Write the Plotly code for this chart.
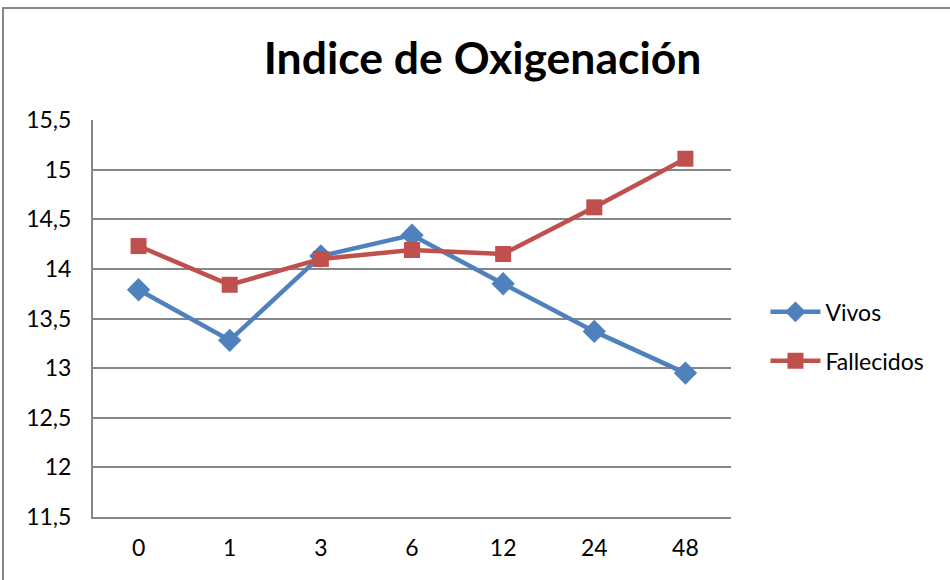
import plotly.graph_objects as go

# datos del gráfico
horas = ["0", "1", "3", "6", "12", "24", "48"]
vivos = [13.79, 13.28, 14.13, 14.34, 13.85, 13.37, 12.95]
fallecidos = [14.23, 13.84, 14.10, 14.19, 14.15, 14.62, 15.11]

azul = "#4F81BD"
rojo = "#C0504D"
gris = "#868686"
fuente = "Lato"

fig = go.Figure()

fig.add_trace(go.Scatter(
    x=horas, y=vivos, name="Vivos", mode="lines+markers", legendgroup="v",
    line=dict(color=azul, width=4.5),
    marker=dict(symbol="diamond", size=18, color=azul)))

fig.add_trace(go.Scatter(
    x=horas, y=fallecidos, name="Fallecidos", mode="lines+markers", legendgroup="f",
    line=dict(color=rojo, width=4.5),
    marker=dict(symbol="square", size=16, color=rojo)))

fig.update_layout(
    width=950, height=580,
    margin=dict(l=93, r=219, t=120, b=63),
    paper_bgcolor="white", plot_bgcolor="white",
    separators=",.",
    font=dict(family=fuente, size=23, color="black"),
    title=dict(text="<b>Indice de Oxigenación</b>", x=0.508, xanchor="center",
               y=0.9, yanchor="middle",
               font=dict(family=fuente, size=44.5, color="black")),
    legend=dict(x=1.054, y=0.455, xanchor="left", yanchor="middle",
                font=dict(size=23), itemwidth=50, traceorder="grouped",
                tracegroupgap=16, bgcolor="rgba(0,0,0,0)"),
    xaxis=dict(type="category", range=[-0.5, 6.5], showgrid=False,
               showline=True, linecolor=gris, linewidth=2, ticks="",
               ticklabelstandoff=9),
    yaxis=dict(range=[11.5, 15.5], dtick=0.5, showgrid=True, gridcolor=gris,
               gridwidth=2, showline=True, linecolor=gris, linewidth=2,
               zeroline=False, ticks="", ticklabelstandoff=15),
)

# borde exterior del gráfico (izquierda y arriba)
fig.add_shape(type="rect", xref="paper", yref="paper",
              x0=(3 - 93) / 638, x1=1.5, y0=-0.3, y1=(517 - 8) / 397,
              line=dict(color=gris, width=2), layer="below")

fig.write_html("out.html", config={"displayModeBar": False},
               post_script="document.body.style.margin='0';")
